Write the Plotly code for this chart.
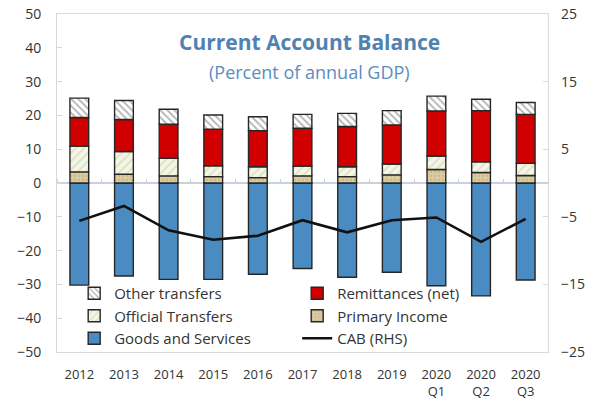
import plotly.graph_objects as go

# Current account balance components, percent of annual GDP
periods = ["2012", "2013", "2014", "2015", "2016", "2017", "2018", "2019",
           "2020<br>Q1", "2020<br>Q2", "2020<br>Q3"]
goods_services = [-30.2, -27.5, -28.5, -28.5, -27.0, -25.3, -27.9, -26.4, -30.4, -33.4, -28.7]
primary_income = [3.3, 2.6, 2.1, 1.9, 1.6, 2.1, 1.9, 2.4, 4.0, 3.1, 2.2]
official_transfers = [7.6, 6.7, 5.2, 3.2, 3.2, 2.9, 2.9, 3.2, 4.0, 3.2, 3.6]
remittances = [8.5, 9.5, 10.1, 10.8, 10.7, 11.2, 11.9, 11.6, 13.3, 15.1, 14.5]
other_transfers = [5.7, 5.6, 4.4, 4.2, 4.1, 4.1, 3.9, 4.2, 4.4, 3.4, 3.5]
cab_rhs = [-5.6, -3.4, -7.0, -8.4, -7.8, -5.5, -7.3, -5.5, -5.1, -8.7, -5.3]

left_ticks = [50, 40, 30, 20, 10, 0, -10, -20, -30, -40, -50]
right_ticks = [25, 15, 5, -5, -15, -25]

FONT = "Open Sans"
TEXT = "#333333"
GRID = "#d9d9d9"
ZERO = "#c8d3de"
EDGE = dict(color="#262626", width=1.4)

fig = go.Figure()

fig.add_trace(go.Bar(
    x=periods, y=goods_services, name="Goods and Services", legendrank=5,
    marker=dict(color="#4a8cc2", line=EDGE),
))
fig.add_trace(go.Bar(
    x=periods, y=primary_income, name="Primary Income", legendrank=4,
    marker=dict(color="#dacb9f", line=EDGE,
                pattern=dict(shape=".", fgcolor="#b8a670", bgcolor="#dacb9f",
                             size=4, solidity=0.25)),
))
fig.add_trace(go.Bar(
    x=periods, y=official_transfers, name="Official Transfers", legendrank=3,
    marker=dict(color="#f3f3e2", line=EDGE,
                pattern=dict(shape="/", fgcolor="#b3cc9b", bgcolor="#f5f5e6",
                             size=6, solidity=0.25)),
))
fig.add_trace(go.Bar(
    x=periods, y=remittances, name="Remittances (net)", legendrank=2,
    marker=dict(color="#d00000", line=EDGE),
))
fig.add_trace(go.Bar(
    x=periods, y=other_transfers, name="Other transfers", legendrank=1,
    marker=dict(color="#ffffff", line=EDGE,
                pattern=dict(shape="\\", fgcolor="#6a6a6a", bgcolor="#ffffff",
                             size=5, solidity=0.35)),
))
fig.add_trace(go.Scatter(
    x=periods, y=cab_rhs, name="CAB (RHS)", legendrank=6, yaxis="y2",
    mode="lines", line=dict(color="#111111", width=2.6),
))

fig.update_layout(
    width=594, height=402,
    margin=dict(l=57, r=46, t=14, b=50, autoexpand=False),
    paper_bgcolor="white", plot_bgcolor="white",
    barmode="relative", bargap=0.58,
    font=dict(family=FONT, color=TEXT, size=14),
    showlegend=True,
    legend=dict(
        orientation="h", x=0.035, y=0.222, xanchor="left", yanchor="top",
        entrywidth=178, entrywidthmode="pixels",
        bgcolor="rgba(0,0,0,0)", font=dict(size=15, color=TEXT),
        itemwidth=30, tracegroupgap=0,
    ),
    xaxis=dict(
        type="category", showgrid=False, zeroline=False, automargin=False,
        showline=True, linecolor=GRID, linewidth=1, mirror=True,
        ticks="", ticklabelstandoff=10, tickfont=dict(size=13, color=TEXT),
    ),
    # small category-boundary ticks sitting on the zero line
    xaxis2=dict(
        overlaying="x", matches="x", type="category", anchor="free", position=0.5,
        side="top", ticks="outside", ticklen=4, tickcolor=ZERO, tickwidth=1,
        tickson="boundaries", showticklabels=False, showline=False,
        showgrid=False, zeroline=False, automargin=False,
    ),
    yaxis=dict(
        range=[-50, 50], tickvals=left_ticks, showgrid=False, automargin=False,
        zeroline=True, zerolinecolor=ZERO, zerolinewidth=1.5,
        showline=True, linecolor=GRID, linewidth=1, mirror=True,
        ticks="inside", ticklen=5, tickcolor=GRID, ticklabelstandoff=12,
        tickfont=dict(size=14, color=TEXT),
    ),
    yaxis2=dict(
        overlaying="y", side="right", range=[-25, 25], tickvals=right_ticks,
        showgrid=False, zeroline=False, showline=False, automargin=False,
        ticks="inside", ticklen=5, tickcolor=GRID, ticklabelstandoff=12,
        tickfont=dict(size=14, color=TEXT),
    ),
    annotations=[
        dict(text="<b>Current Account Balance</b>", xref="paper", yref="paper",
             x=0.515, y=0.917, xanchor="center", yanchor="middle", showarrow=False,
             font=dict(family=FONT, size=21, color="#4f82b2")),
        dict(text="(Percent of annual GDP)", xref="paper", yref="paper",
             x=0.515, y=0.828, xanchor="center", yanchor="middle", showarrow=False,
             font=dict(family=FONT, size=18, color="#5b8dbd")),
    ],
)

# an empty trace keeps the tick-only axis drawn
fig.add_trace(go.Scatter(x=periods, y=[None] * len(periods), xaxis="x2",
                         showlegend=False, hoverinfo="skip", mode="lines"))

fig.write_html("out.html")
